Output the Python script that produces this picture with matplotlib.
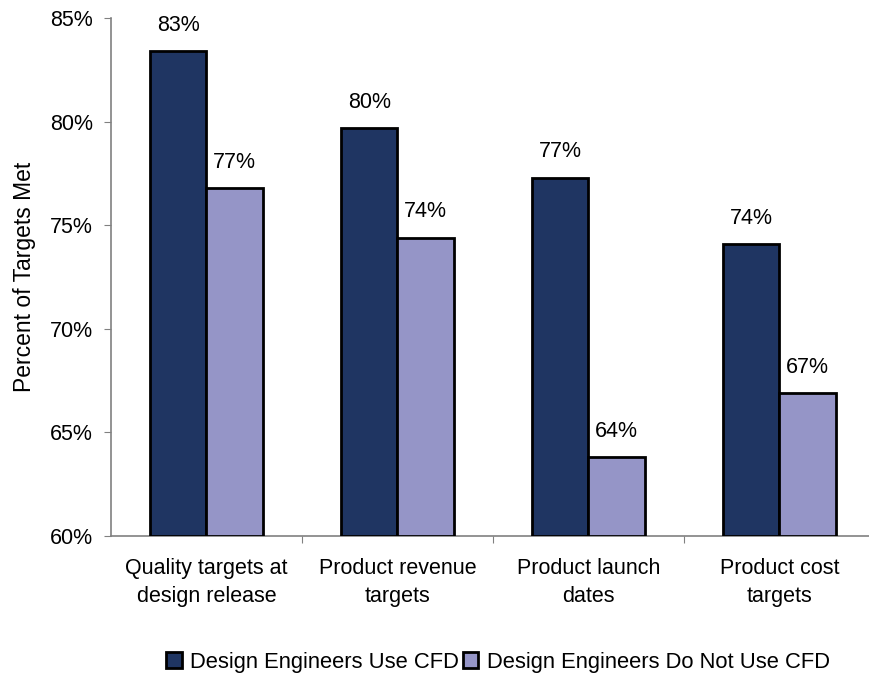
import matplotlib
matplotlib.use("Agg")
import matplotlib.pyplot as plt
import numpy as np

plt.rcParams['font.family'] = ['Liberation Sans', 'DejaVu Sans']

categories = ["Quality targets at\ndesign release", "Product revenue\ntargets",
              "Product launch\ndates", "Product cost\ntargets"]
use_cfd = [83.4, 79.7, 77.3, 74.1]
no_cfd = [76.8, 74.4, 63.8, 66.9]
series_names = ["Design Engineers Use CFD", "Design Engineers Do Not Use CFD"]
colors = ["#1f3562", "#9595c7"]

fig = plt.figure(figsize=(8.69, 6.79), dpi=100)
ax = fig.add_axes([0.1277, 0.2106, 0.879, 0.7629])

x = np.arange(len(categories))
w = 0.295
bars = []
for vals, off, col, name in zip([use_cfd, no_cfd], [-w / 2, w / 2], colors, series_names):
    b = ax.bar(x + off, [v - 60 for v in vals], w, bottom=60, color=col,
               edgecolor="black", linewidth=2, label=name, zorder=3)
    bars.append(b)
    for xi, v in zip(x + off, vals):
        ax.annotate(f"{v:.0f}%", (xi, v), xytext=(0, 11), textcoords="offset points",
                    ha="center", va="bottom", fontsize=15.5)

ax.set_xlim(-0.5, 3.5)
ax.set_ylim(60, 85)
ax.set_yticks(range(60, 86, 5))
ax.set_yticklabels([f"{t}%" for t in range(60, 86, 5)], fontsize=15.5)
ax.set_ylabel("Percent of Targets Met", fontsize=16.5, labelpad=10)

# category boundaries carry the ticks, names sit centred between them
ax.set_xticks(x[:-1] + 0.5)
ax.set_xticklabels([])
ax.set_xticks(x, minor=True)
ax.set_xticklabels(categories, minor=True, fontsize=15.5, linespacing=1.45)
ax.tick_params(axis="x", which="minor", length=0, pad=16)
ax.tick_params(axis="x", which="major", direction="out", length=5, color="#808080")
ax.tick_params(axis="y", direction="out", length=5, color="#808080", pad=8)

for s in ["top", "right"]:
    ax.spines[s].set_visible(False)
for s in ["left", "bottom"]:
    ax.spines[s].set_color("#808080")
    ax.spines[s].set_linewidth(1.2)

fig.legend(handles=bars, labels=series_names, loc="lower center",
           bbox_to_anchor=(0.573, -0.02), ncol=2, frameon=False, fontsize=15.8,
           handlelength=0.7, handleheight=0.7, handletextpad=0.4, columnspacing=0.15)

fig.savefig("out.png", dpi=100)
